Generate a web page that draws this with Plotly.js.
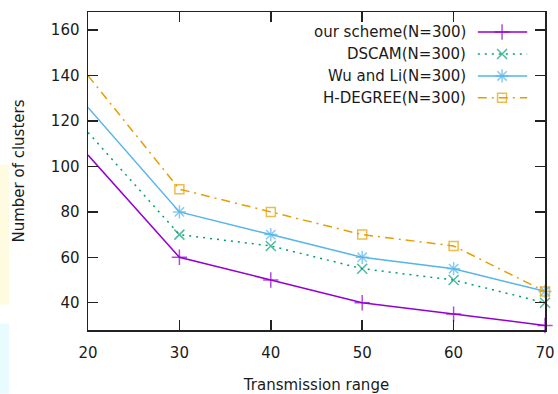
<!DOCTYPE html>
<html><head><meta charset="utf-8">
<script src="https://cdn.plot.ly/plotly-3.0.1.min.js"></script>
<style>html,body{margin:0;padding:0;background:#fff}#chart{width:558px;height:394px}</style>
</head><body><div id="chart"></div>
<script>
const ranges = [20, 30, 40, 50, 60, 70];
const seriesNames = ["our scheme(N=300)", "DSCAM(N=300)", "Wu and Li(N=300)", "H-DEGREE(N=300)"];
const ourScheme = [105, 60, 50, 40, 35, 30];
const dscam = [115, 70, 65, 55, 50, 40];
const wuLi = [126, 80, 70, 60, 55, 45];
const hDegree = [140, 90, 80, 70, 65, 45];
const xTicks = [20, 30, 40, 50, 60, 70];
const yTicks = [40, 60, 80, 100, 120, 140, 160];

const styles = [
  {color: '#9400d3', dash: 'solid', symbol: 'cross-thin-open', size: 11},
  {color: '#009e73', dash: '2px,5px', symbol: 'x-thin-open', size: 10},
  {color: '#56b4e9', dash: 'solid', symbol: 'asterisk-open', size: 11},
  {color: '#e69f00', dash: '9px,5px,2px,5px', symbol: 'square-open', size: 9}
];
const allSeries = [ourScheme, dscam, wuLi, hDegree];

const traces = allSeries.map((ys, i) => ({
  x: ranges, y: ys, type: 'scatter', mode: 'lines+markers', name: seriesNames[i],
  line: {color: styles[i].color, width: 1.5, dash: styles[i].dash},
  marker: {symbol: styles[i].symbol, size: ranges.map((r, j) => j === 0 ? 0 : styles[i].size), color: styles[i].color, line: {color: styles[i].color, width: 1.5}},
  showlegend: false, cliponaxis: false
}));

// custom gnuplot-style legend (text left, sample right)
const legRows = [0.937, 0.868, 0.799, 0.730];
const annotations = [];
seriesNames.forEach((n, i) => {
  traces.push({
    x: [0.853, 0.906, 0.961], y: [legRows[i], legRows[i], legRows[i]],
    xaxis: 'x2', yaxis: 'y2', type: 'scatter', mode: 'lines+markers', showlegend: false, hoverinfo: 'skip',
    line: {color: styles[i].color, width: 1.5, dash: styles[i].dash},
    marker: {symbol: styles[i].symbol, size: [0, styles[i].size, 0], color: styles[i].color, line: {color: styles[i].color, width: 1.5}}
  });
  annotations.push({xref: 'paper', yref: 'paper', x: 0.831, y: legRows[i], xanchor: 'right', yanchor: 'middle',
    text: n, showarrow: false, font: {family: 'DejaVu Sans', size: 15, color: '#1a1a1a'}});
});

const axisCommon = {
  showgrid: false, zeroline: false, showline: true, linecolor: '#222', linewidth: 1.5,
  mirror: 'allticks', ticks: 'inside', ticklen: 10, tickwidth: 1.5, tickcolor: '#222',
  tickfont: {family: 'DejaVu Sans', size: 15, color: '#1a1a1a'}
};

const layout = {
  width: 558, height: 394,
  margin: {l: 88, r: 13, t: 12, b: 64},
  paper_bgcolor: '#fff', plot_bgcolor: '#fff',
  xaxis: Object.assign({}, axisCommon, {range: [20, 70], tickvals: xTicks, ticktext: xTicks.map(String), ticklabelstandoff: 8,
    title: {text: 'Transmission range', font: {family: 'DejaVu Sans', size: 15, color: '#1a1a1a'}, standoff: 24}}),
  yaxis: Object.assign({}, axisCommon, {range: [28, 168], tickvals: yTicks, ticktext: yTicks.map(String), ticklabelstandoff: 4,
    title: {text: 'Number of clusters', font: {family: 'DejaVu Sans', size: 15, color: '#1a1a1a'}, standoff: 22}}),
  xaxis2: {overlaying: 'x', range: [0, 1], visible: false, fixedrange: true},
  yaxis2: {overlaying: 'y', range: [0, 1], visible: false, fixedrange: true},
  annotations: annotations,
  shapes: [
    {type: 'rect', xref: 'paper', yref: 'paper', x0: -0.1926, x1: -0.173, y0: 0.08, y1: 0.52, fillcolor: '#fffbe0', line: {width: 0}, layer: 'below'},
    {type: 'rect', xref: 'paper', yref: 'paper', x0: -0.1926, x1: -0.173, y0: -0.2, y1: 0.02, fillcolor: '#e8fbff', line: {width: 0}, layer: 'below'}
  ],
  showlegend: false
};

Plotly.newPlot('chart', traces, layout, {staticPlot: true, displayModeBar: false});
</script></body></html>
